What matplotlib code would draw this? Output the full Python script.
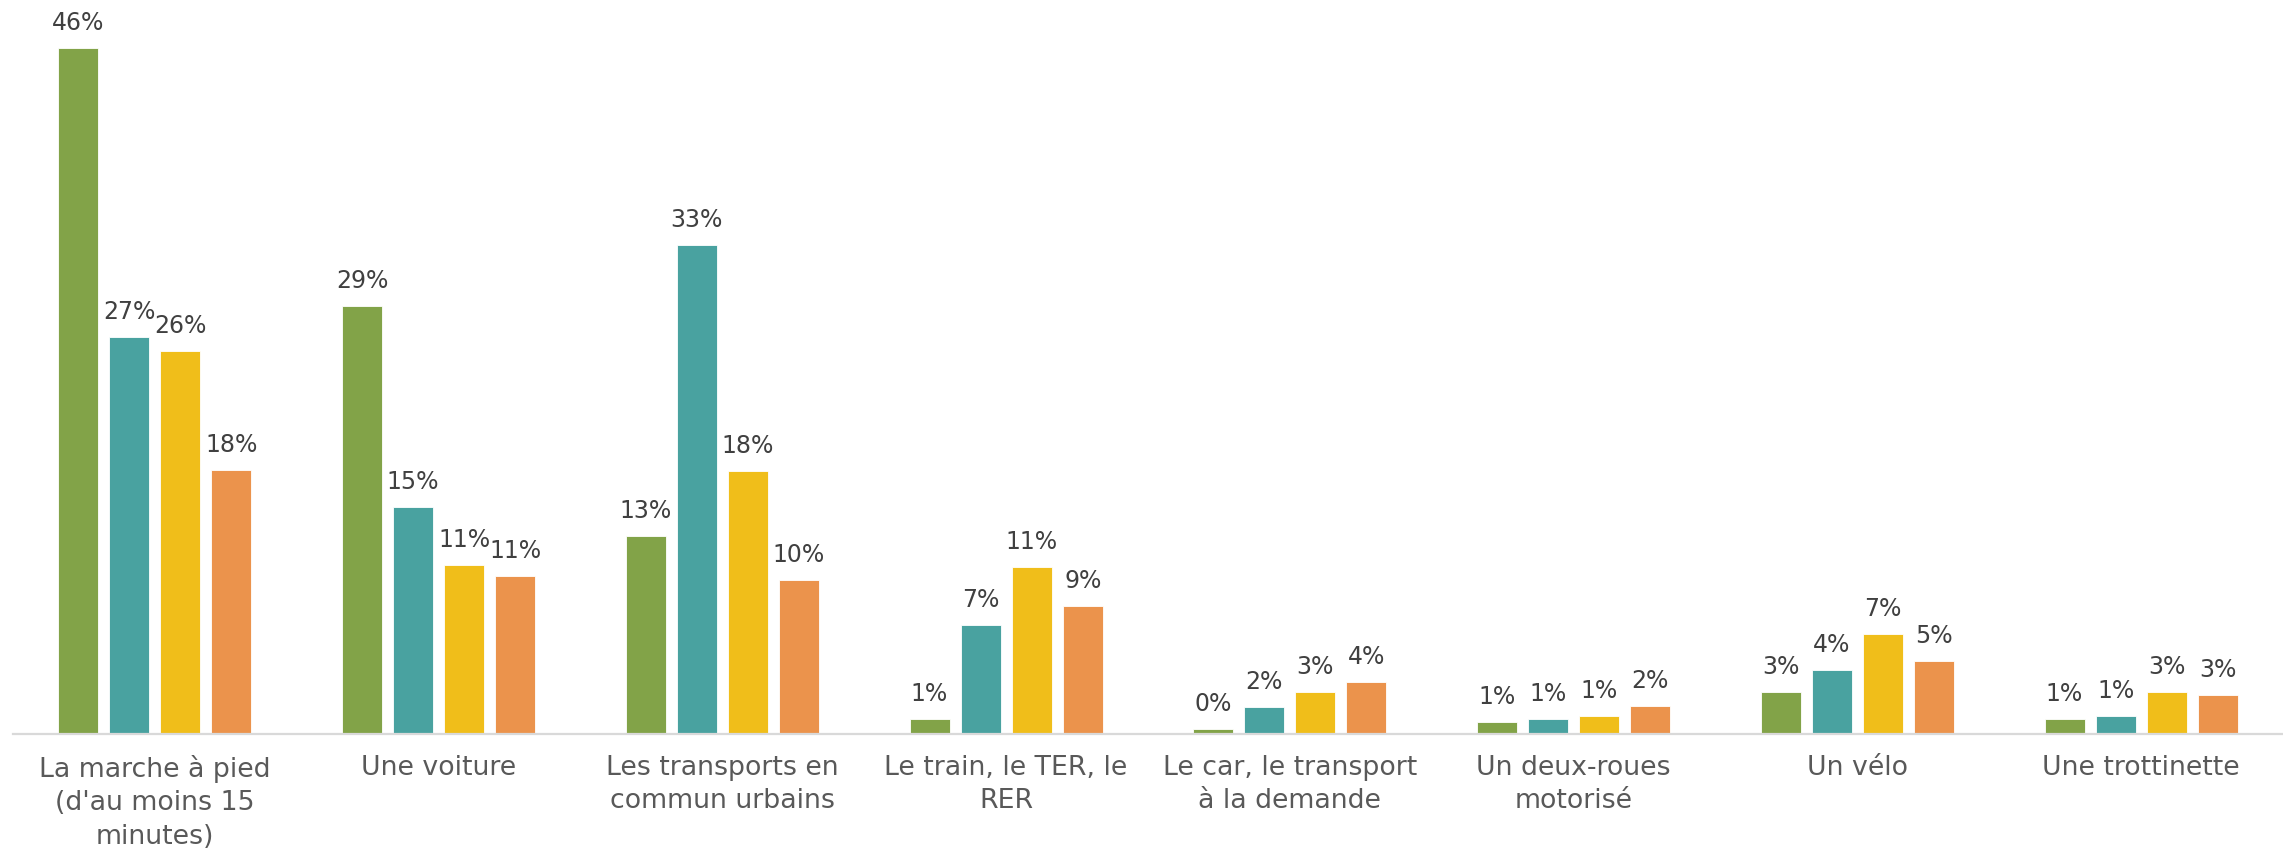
import matplotlib.pyplot as plt
import numpy as np

# Modes de déplacement (axe des x)
categories = [
    "La marche à pied\n(d'au moins 15\nminutes)",
    "Une voiture",
    "Les transports en\ncommun urbains",
    "Le train, le TER, le\nRER",
    "Le car, le transport\nà la demande",
    "Un deux-roues\nmotorisé",
    "Un vélo",
    "Une trottinette",
]

# 4 séries (pourcentages)
serie_1 = [46.0, 28.7, 13.3, 1.0, 0.35, 0.8, 2.8, 1.0]
serie_2 = [26.6, 15.2, 32.8, 7.3, 1.8, 1.0, 4.3, 1.2]
serie_3 = [25.7, 11.3, 17.6, 11.2, 2.8, 1.2, 6.7, 2.8]
serie_4 = [17.7, 10.6, 10.3, 8.6, 3.5, 1.9, 4.9, 2.6]

couleurs = ["#82A348", "#49A2A0", "#F0BE1A", "#EB934C"]
series = [serie_1, serie_2, serie_3, serie_4]

fig = plt.figure(figsize=(22.83, 8.57), dpi=100)
ax = fig.add_axes([13 / 2283, 123 / 857, 2270 / 2283, 734 / 857])

x = np.arange(len(categories))
pas = 0.18
largeur = 0.141

for i, (vals, c) in enumerate(zip(series, couleurs)):
    pos = x + (i - 1.5) * pas
    bars = ax.bar(pos, vals, width=largeur, color=c, edgecolor="white", linewidth=0.6)
    for b, v in zip(bars, vals):
        ax.annotate(f"{v:.0f}%", (b.get_x() + b.get_width() / 2, v),
                    xytext=(0, 13), textcoords="offset points",
                    ha="center", va="baseline", fontsize=17, color="#404040")

ax.set_xlim(-0.5, len(categories) - 0.5)
ax.set_ylim(0, 49.2)
ax.set_xticks(x)
ax.set_xticklabels(categories, fontsize=19.3, color="#595959", linespacing=1.38)
ax.tick_params(axis="x", length=0, pad=15)
ax.set_yticks([])

for s in ["top", "left", "right"]:
    ax.spines[s].set_visible(False)
ax.spines["bottom"].set_color("#D9D9D9")
ax.spines["bottom"].set_linewidth(1.6)

plt.savefig("out.png", dpi=100)
plt.close("all")
